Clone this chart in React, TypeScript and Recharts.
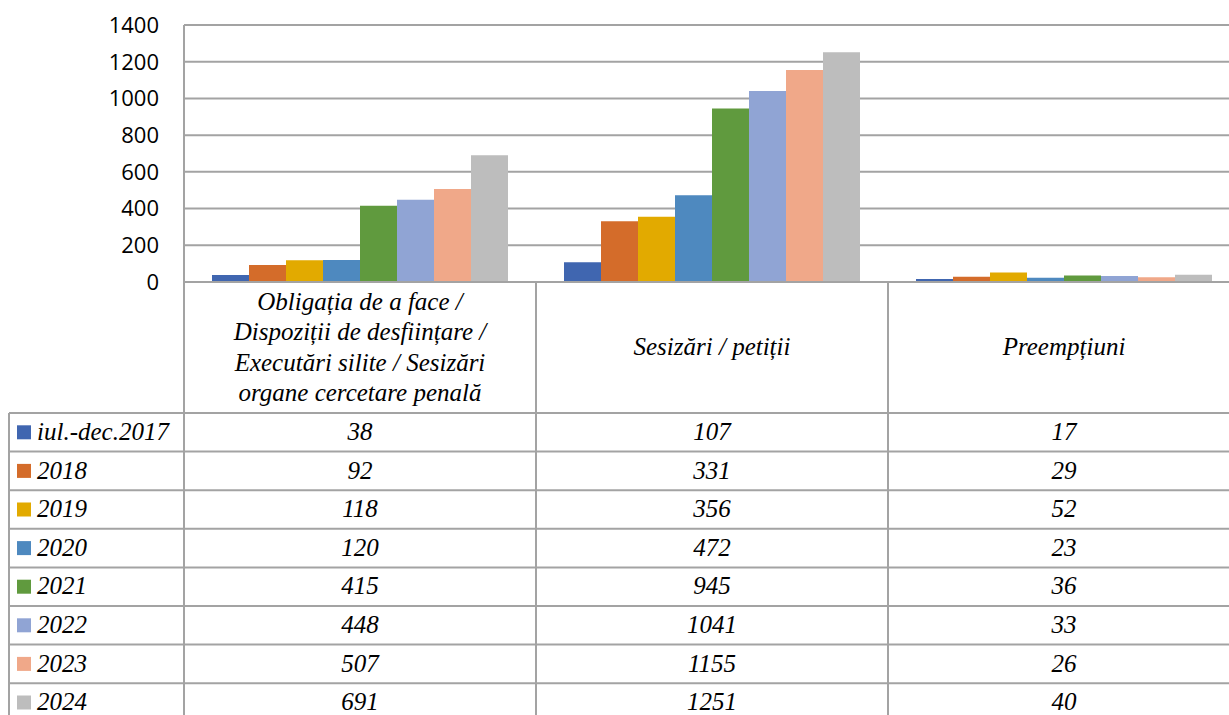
import React from "react";
import { BarChart, Bar, XAxis, YAxis, CartesianGrid } from "recharts";

const categories = [
  "Obligația de a face / Dispoziții de desființare / Executări silite / Sesizări organe cercetare penală",
  "Sesizări / petiții",
  "Preempțiuni",
];
const categoryLines = [
  ["Obligația de a face /", "Dispoziții de desființare /", "Executări silite / Sesizări", "organe cercetare penală"],
  ["Sesizări / petiții"],
  ["Preempțiuni"],
];

const seriesNames = ["iul.-dec.2017", "2018", "2019", "2020", "2021", "2022", "2023", "2024"];
const seriesColors = ["#4066B0", "#D46C2A", "#E2AA00", "#4E89BF", "#609A3E", "#90A4D4", "#F0A889", "#BDBDBD"];

const v2017 = [38, 107, 17];
const v2018 = [92, 331, 29];
const v2019 = [118, 356, 52];
const v2020 = [120, 472, 23];
const v2021 = [415, 945, 36];
const v2022 = [448, 1041, 33];
const v2023 = [507, 1155, 26];
const v2024 = [691, 1251, 40];
const seriesValues = [v2017, v2018, v2019, v2020, v2021, v2022, v2023, v2024];

const yTicks = [0, 200, 400, 600, 800, 1000, 1200, 1400];

const data = categories.map((c, i) => {
  const row: Record<string, any> = { cat: c };
  seriesNames.forEach((s, k) => {
    row["s" + k] = seriesValues[k][i];
  });
  return row;
});

// layout constants
const W = 1229;
const H = 715;
const CHART_W = 1260;
const CHART_H = 300;
const M_TOP = 25;
const M_RIGHT = 20;
const M_BOTTOM = 18;
const Y_W = 184;
const PLOT_LEFT = Y_W;
const PLOT_RIGHT = CHART_W - M_RIGHT;
const AXIS_Y = CHART_H - M_BOTTOM;
const HEADER_BOTTOM = 413;
const ROW_H = 38.6;
const TABLE_LEFT = 9;
const LINE = "#A3A3A3";
const textBase: React.CSSProperties = {
  position: "absolute",
  fontFamily: "Times New Roman",
  fontStyle: "italic",
  fontSize: 25,
  color: "#000",
  whiteSpace: "nowrap",
};

function TableLines() {
  const colW = (PLOT_RIGHT - PLOT_LEFT) / categories.length;
  const els: React.ReactNode[] = [];
  els.push(<line key="ax" x1={PLOT_LEFT} y1={AXIS_Y} x2={W} y2={AXIS_Y} stroke={LINE} strokeWidth={2} />);
  for (let i = 0; i <= categories.length; i++) {
    const x = PLOT_LEFT + i * colW;
    els.push(<line key={"v" + i} x1={x} y1={AXIS_Y} x2={x} y2={H} stroke={LINE} strokeWidth={2} />);
  }
  els.push(<line key="vl" x1={TABLE_LEFT} y1={HEADER_BOTTOM} x2={TABLE_LEFT} y2={H} stroke={LINE} strokeWidth={2} />);
  for (let r = 0; r < seriesNames.length; r++) {
    const y = HEADER_BOTTOM + r * ROW_H;
    els.push(<line key={"h" + r} x1={TABLE_LEFT} y1={y} x2={W} y2={y} stroke={LINE} strokeWidth={2} />);
  }
  seriesNames.forEach((s, r) => {
    const cy = HEADER_BOTTOM + (r + 0.5) * ROW_H;
    els.push(<rect key={"m" + r} x={17} y={cy - 7} width={14} height={14} fill={seriesColors[r]} />);
  });
  return (
    <svg width={W} height={H} style={{ position: "absolute", left: 0, top: 0, pointerEvents: "none" }}>
      {els}
    </svg>
  );
}

function TableText() {
  const colW = (PLOT_RIGHT - PLOT_LEFT) / categories.length;
  const els: React.ReactNode[] = [];
  categoryLines.forEach((lines, i) => {
    els.push(
      <div key={"c" + i} style={{
        ...textBase,
        left: PLOT_LEFT + i * colW, top: AXIS_Y, width: colW, height: HEADER_BOTTOM - AXIS_Y,
        display: "flex", flexDirection: "column", justifyContent: "center", alignItems: "center",
        lineHeight: "30.5px", textAlign: "center",
      }}>
        {lines.map((ln, j) => <div key={j}>{ln}</div>)}
      </div>
    );
  });
  seriesNames.forEach((s, r) => {
    const top = HEADER_BOTTOM + r * ROW_H;
    els.push(
      <div key={"l" + r} style={{ ...textBase, left: 37, top, height: ROW_H, lineHeight: ROW_H + "px" }}>{s}</div>
    );
    seriesValues[r].forEach((v, i) => {
      els.push(
        <div key={"d" + r + "_" + i} style={{
          ...textBase, left: PLOT_LEFT + i * colW, width: colW, top, height: ROW_H,
          lineHeight: ROW_H + "px", textAlign: "center",
        }}>{v}</div>
      );
    });
  });
  return <>{els}</>;
}

export default function App() {
  return (
    <div style={{ position: "absolute", left: 0, top: 0, width: W, height: H, overflow: "hidden", background: "#fff" }}>
      <div style={{ position: "absolute", left: 0, top: 0 }}>
        <BarChart width={CHART_W} height={CHART_H} data={data}
          margin={{ top: M_TOP, right: M_RIGHT, bottom: M_BOTTOM, left: 0 }}
          barCategoryGap={28} barGap={0}>
          <CartesianGrid vertical={false} stroke={LINE} strokeWidth={2} />
          <XAxis dataKey="cat" hide />
          <YAxis width={Y_W} domain={[0, 1400]} ticks={yTicks} interval={0}
            axisLine={{ stroke: LINE, strokeWidth: 2 }} tickLine={false} tickSize={0} tickMargin={25}
            tick={{ fill: "#000", fontSize: 22, fontFamily: "Open Sans" }} />
          {seriesNames.map((s, k) => (
            <Bar key={s} dataKey={"s" + k} name={s} fill={seriesColors[k]} isAnimationActive={false} />
          ))}
        </BarChart>
      </div>
      <TableLines />
      <TableText />
    </div>
  );
}
